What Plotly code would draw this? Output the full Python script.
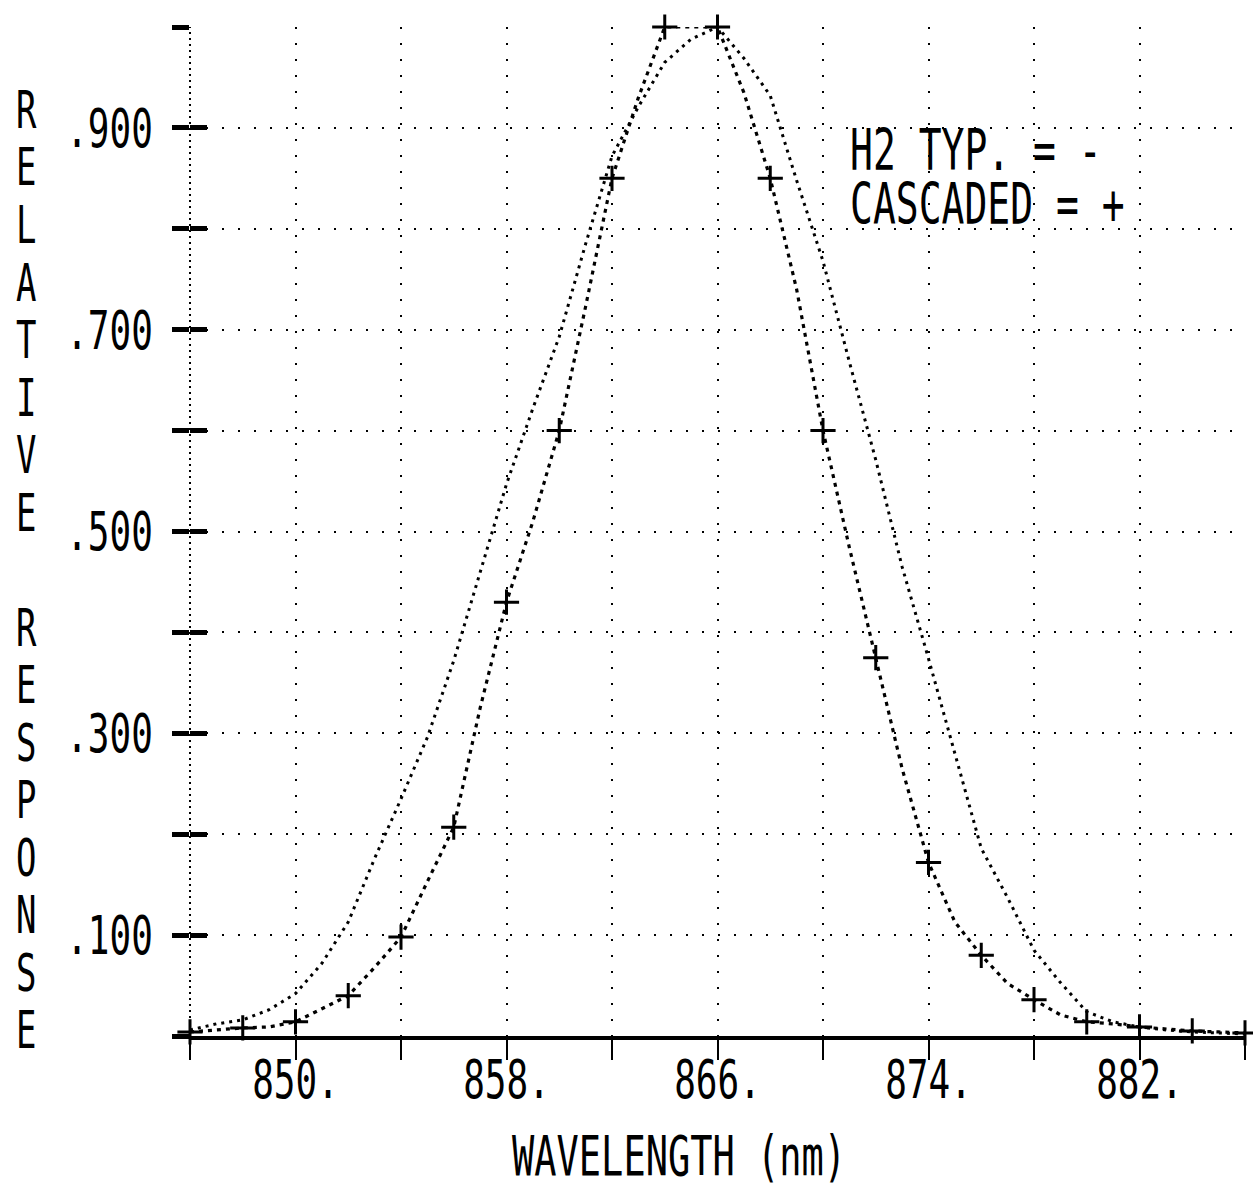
import plotly.graph_objects as go

# ---- data ----
wavelength = list(range(846, 887))
h2_typ = [0.006, 0.012, 0.016, 0.026, 0.042, 0.072, 0.113, 0.176, 0.235, 0.296,
          0.372, 0.460, 0.547, 0.622, 0.693, 0.785, 0.872, 0.921, 0.965, 0.988,
          1.000, 0.969, 0.932, 0.848, 0.768, 0.668, 0.571, 0.465, 0.374, 0.280,
          0.186, 0.137, 0.085, 0.053, 0.024, 0.014, 0.009, 0.006, 0.004, 0.003,
          0.002]
cascaded = [0.004, 0.006, 0.008, 0.009, 0.014, 0.027, 0.040, 0.068, 0.098, 0.153,
            0.207, 0.325, 0.430, 0.510, 0.600, 0.723, 0.850, 0.930, 1.000, 1.000,
            1.000, 0.935, 0.850, 0.740, 0.600, 0.484, 0.375, 0.265, 0.172, 0.113,
            0.080, 0.052, 0.036, 0.021, 0.014, 0.012, 0.009, 0.007, 0.005, 0.004,
            0.003]

x_tick_vals = [846, 850, 854, 858, 862, 866, 870, 874, 878, 882, 886]
x_tick_text = ["", "850.", "", "858.", "", "866.", "", "874.", "", "882.", ""]
y_tick_vals = [0.0, 0.1, 0.2, 0.3, 0.4, 0.5, 0.6, 0.7, 0.8, 0.9, 1.0]
y_tick_text = ["", ".100", "", ".300", "", ".500", "", ".700", "", ".900", ""]

legend_lines = ["H2 TYP. = -", "CASCADED = +"]
x_title = "WAVELENGTH (nm)"
y_title = "RELATIVE RESPONSE"

FONT = "DejaVu Sans Mono"
INK = "black"

fig = go.Figure()

fig.add_trace(go.Scatter(
    x=wavelength, y=h2_typ, mode="lines", name="H2 TYP.",
    line=dict(color=INK, width=3, dash="3px,5px"),
))
fig.add_trace(go.Scatter(
    x=wavelength, y=cascaded, mode="lines", name="CASCADED",
    line=dict(color=INK, width=3.2, dash="4px,5px"),
))
fig.add_trace(go.Scatter(
    x=wavelength[::2], y=cascaded[::2], mode="markers", name="CASCADED pts",
    marker=dict(symbol="cross-thin", size=18, color=INK, line=dict(color=INK, width=3)),
    cliponaxis=False,
))
# invisible trace to carry the inner half of the y ticks
fig.add_trace(go.Scatter(x=[846], y=[0], yaxis="y2", mode="markers",
                         marker=dict(opacity=0), hoverinfo="skip"))

fig.update_layout(
    width=1253, height=1190,
    margin=dict(l=190, r=8, t=27, b=154),
    plot_bgcolor="white", paper_bgcolor="white",
    showlegend=False,
    font=dict(family=FONT, color=INK, size=36),
    xaxis=dict(
        range=[846, 886], tickvals=x_tick_vals, ticktext=x_tick_text,
        ticks="outside", ticklen=20, tickwidth=2, tickcolor=INK,
        showgrid=True, gridcolor=INK, gridwidth=2, griddash="2px,14px",
        showline=True, linecolor=INK, linewidth=4, zeroline=False,
        tickfont=dict(family=FONT, size=36, color=INK),
        ticklabelstandoff=-11,
    ),
    yaxis=dict(
        range=[0, 1.0], tickvals=y_tick_vals, ticktext=y_tick_text,
        ticks="outside", ticklen=17, tickwidth=5, tickcolor=INK,
        showgrid=True, gridcolor=INK, gridwidth=2, griddash="2px,14px",
        showline=False, zeroline=False,
        tickfont=dict(family=FONT, size=36, color=INK),
        ticklabelstandoff=12,
    ),
    yaxis2=dict(
        range=[0, 1.0], overlaying="y", anchor="x", side="left",
        tickvals=y_tick_vals, ticks="inside", ticklen=17, tickwidth=5,
        tickcolor=INK, showticklabels=False, showgrid=False, zeroline=False,
        showline=False,
    ),
)

# dotted left axis
fig.add_shape(type="line", xref="x domain", yref="y domain", x0=0, x1=0, y0=0, y1=1,
              line=dict(color=INK, width=2, dash="2px,4px"))

# legend text
fig.add_annotation(xref="x", yref="y", x=870.95, y=0.877, text=legend_lines[0],
                   showarrow=False, xanchor="left", yanchor="middle",
                   font=dict(family=FONT, size=38, color=INK))
fig.add_annotation(xref="x", yref="y", x=870.95, y=0.824, text=legend_lines[1],
                   showarrow=False, xanchor="left", yanchor="middle",
                   font=dict(family=FONT, size=38, color=INK))

# x-axis title
fig.add_annotation(xref="paper", yref="paper", x=0.4635, y=-0.119, text=x_title,
                   showarrow=False, xanchor="center", yanchor="middle",
                   font=dict(family=FONT, size=37, color=INK))

# y-axis title: upright letters stacked vertically
top_px, step_px = 110.0, 57.5
for i, ch in enumerate(y_title):
    if ch == " ":
        continue
    ypx = top_px + i * step_px
    fig.add_annotation(xref="paper", yref="paper",
                       x=(26 - 190) / 1055, y=(1036 - ypx) / 1009, text=ch,
                       showarrow=False, xanchor="center", yanchor="middle",
                       font=dict(family=FONT, size=34, color=INK))

# stretch the (real) text glyphs vertically to mimic the tall plotter lettering
post = """
document.body.style.margin = '0';
var gd = document.getElementById('{plot_id}');
var texts = gd.querySelectorAll('svg text');
texts.forEach(function (t) {
  var b;
  try { b = t.getBBox(); } catch (e) { return; }
  if (!b || b.height === 0 || !t.textContent) return;
  var cx = b.x + b.width / 2, cy = b.y + b.height / 2;
  var old = t.getAttribute('transform') || '';
  t.setAttribute('transform', old + ' translate(' + cx + ',' + cy + ') scale(1,1.5) translate(' + (-cx) + ',' + (-cy) + ')');
});
"""

fig.write_html("out.html", post_script=post, config={"displayModeBar": False})
